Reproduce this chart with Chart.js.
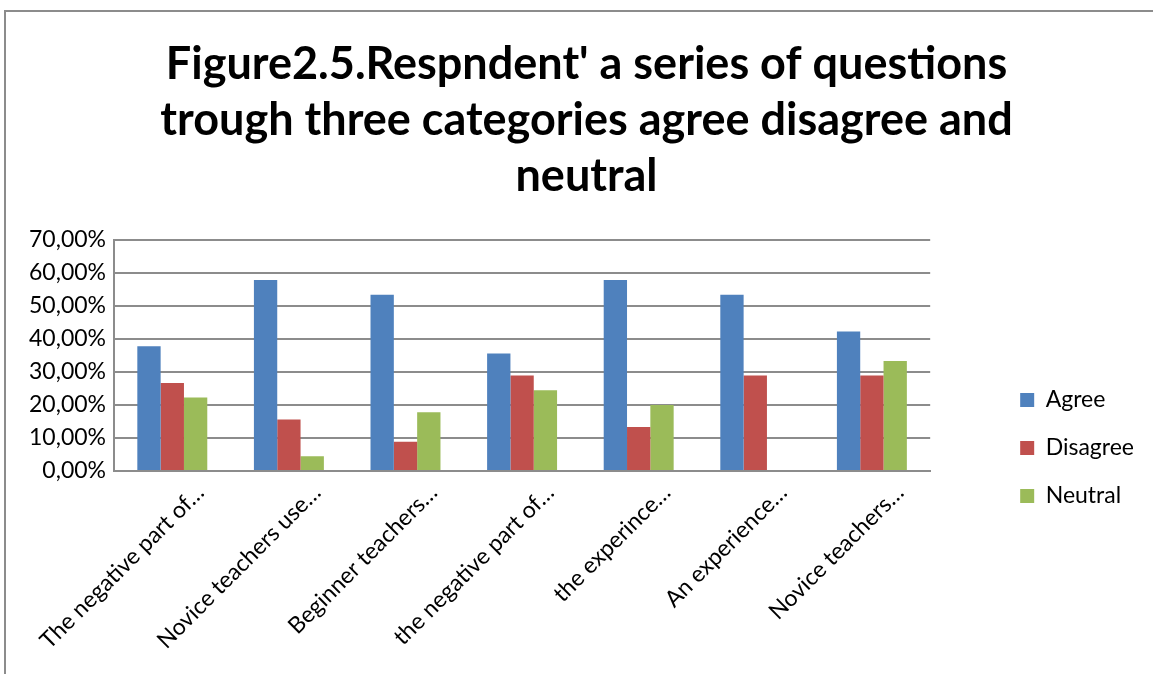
<!DOCTYPE html>
<html>
<head>
<meta charset="utf-8">
<script src="https://cdn.jsdelivr.net/npm/chart.js@4"></script>
<style>
  html, body { margin: 0; padding: 0; background: #fff; }
  #wrap { position: relative; width: 1153px; height: 674px; overflow: hidden; }
  #frame { position: absolute; left: 4px; top: 10px; width: 1200px; height: 700px; border: 2px solid #8c8c8c; box-sizing: border-box; }
  #chart { position: absolute; left: 0; top: 0; }
</style>
</head>
<body>
<div id="wrap">
  <div id="frame"></div>
  <canvas id="chart" width="1153" height="674"></canvas>
</div>
<script>
// Data (share of respondents).
const categories = [
  'The negative part of…',
  'Novice teachers use…',
  'Beginner teachers…',
  'the negative part of…',
  'the experince…',
  'An experience…',
  'Novice teachers…'
];
const agree = [0.3778, 0.5778, 0.5333, 0.3556, 0.5778, 0.5333, 0.4222];
const disagree = [0.2667, 0.1556, 0.0889, 0.2889, 0.1333, 0.2889, 0.2889];
const neutral = [0.2222, 0.0444, 0.1778, 0.2444, 0.2000, 0, 0.3333];
const titleLines = [
  "Figure2.5.Respndent' a series of questions",
  'trough three categories agree disagree and',
  'neutral'
];

const FONT = 'Lato, "Open Sans", sans-serif';
const gridColor = '#8c8c8c';

// Format value like 10,00%
function pct(v) {
  return (v * 100).toFixed(2).replace('.', ',') + '%';
}

// Excel puts the legend lower and further right than Chart.js does,
// and centres the title on the whole frame, so nudge those boxes.
const legendShift = { x: 65, y: 104 };
const titleShift = 42;
const nudge = {
  id: 'nudge',
  afterLayout(chart) {
    const lg = chart.legend;
    lg.left += legendShift.x; lg.right += legendShift.x;
    lg.top += legendShift.y; lg.bottom += legendShift.y;
    const t = chart.titleBlock;
    t.left += titleShift; t.right += titleShift;
  }
};

const ctx = document.getElementById('chart').getContext('2d');
new Chart(ctx, {
  type: 'bar',
  data: {
    labels: categories,
    datasets: [
      { label: 'Agree', data: agree, backgroundColor: '#4F81BD' },
      { label: 'Disagree', data: disagree, backgroundColor: '#C0504D' },
      { label: 'Neutral', data: neutral, backgroundColor: '#9BBB59' }
    ]
  },
  plugins: [nudge],
  options: {
    responsive: false,
    animation: false,
    categoryPercentage: 0.6,
    barPercentage: 1.0,
    layout: { padding: { left: 10, right: 74, top: 14, bottom: 0 } },
    plugins: {
      title: {
        display: true,
        text: titleLines,
        color: '#000',
        font: { family: FONT, size: 45, weight: 'bold', lineHeight: 1.25 },
        padding: { top: 22, bottom: 35 }
      },
      legend: {
        position: 'right',
        labels: {
          color: '#000',
          font: { family: FONT, size: 23 },
          boxWidth: 14,
          boxHeight: 14,
          padding: 25
        }
      },
      tooltip: { enabled: false }
    },
    scales: {
      x: {
        grid: { display: false },
        border: { color: gridColor, width: 2 },
        ticks: {
          color: '#000',
          font: { family: FONT, size: 23 },
          minRotation: 45,
          maxRotation: 45,
          autoSkip: false,
          labelOffset: 28,
          padding: 0
        },
        afterFit: (scale) => { scale.height = 203; }
      },
      y: {
        min: 0,
        max: 0.7,
        grid: { color: gridColor, lineWidth: 2, drawTicks: false },
        border: { color: gridColor, width: 2 },
        ticks: {
          stepSize: 0.1,
          color: '#000',
          font: { family: FONT, size: 23 },
          padding: 8,
          callback: (v) => pct(v)
        },
        afterFit: (scale) => { scale.width = 104; }
      }
    }
  }
});
</script>
</body>
</html>
